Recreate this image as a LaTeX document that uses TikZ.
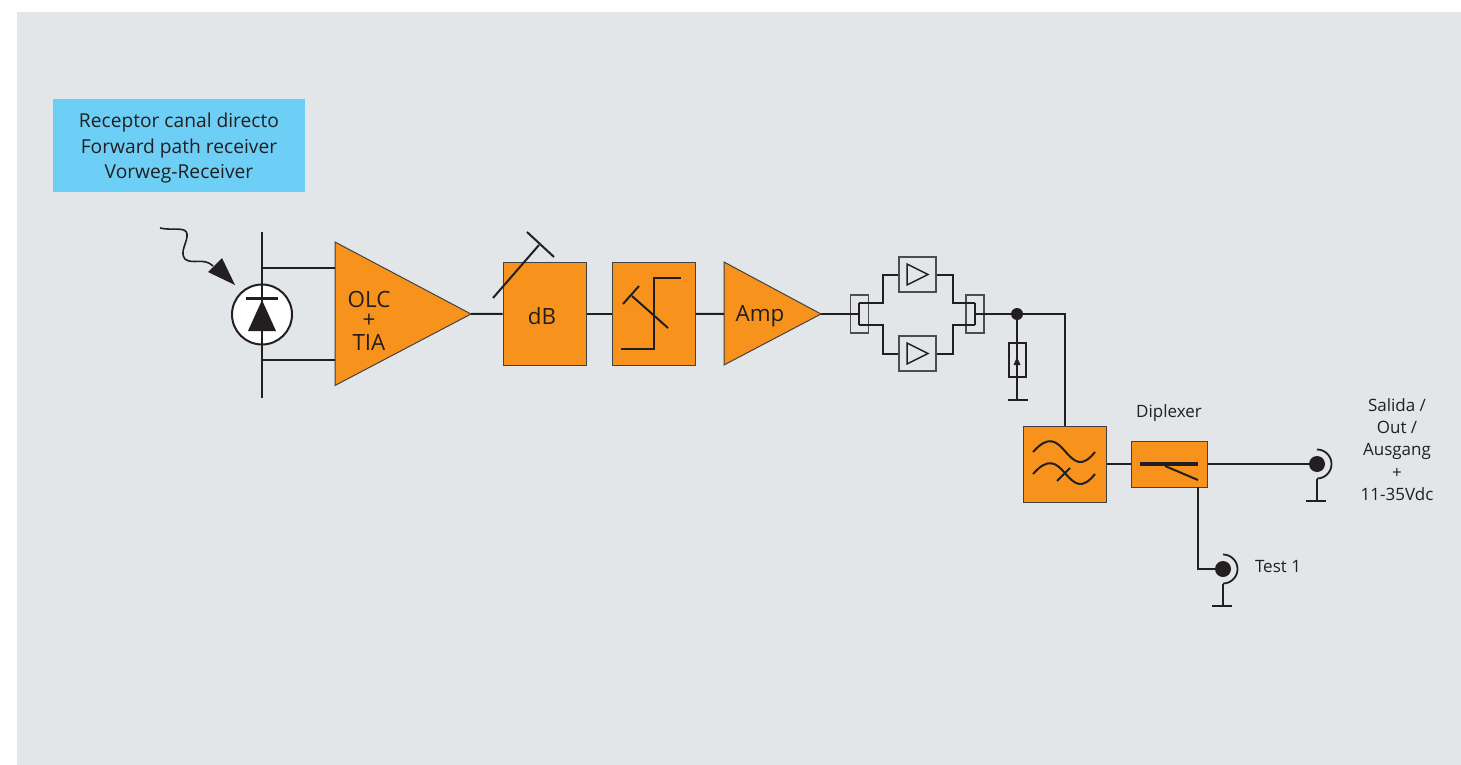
\documentclass[tikz,border=0pt]{standalone}
\usepackage{fontspec}
\setmainfont{Open Sans}
\definecolor{bgc}{HTML}{E2E6E9}
\definecolor{orng}{HTML}{F7931D}
\definecolor{blu}{HTML}{6DCFF6}
\definecolor{ink}{HTML}{231F20}
\tikzset{
  wire/.style={draw=ink,line width=1pt},
  thin wire/.style={draw=ink,line width=.75pt},
  obox/.style={draw=ink!85,fill=orng,line width=.5pt,inner sep=0pt,rectangle},
  otri/.style={draw=ink!85,fill=orng,line width=.5pt,line join=miter},
  gbox/.style={draw=ink!80,line width=.65pt,inner sep=0pt,rectangle},
  lbl/.style={text=ink,font=\fontsize{8.5}{10}\selectfont,inner sep=0pt,align=center},
  big/.style={text=ink,font=\fontsize{9.6}{11}\selectfont,inner sep=0pt,align=center},
  huge/.style={text=ink,font=\fontsize{11.2}{13}\selectfont,inner sep=0pt,align=center},
  dotn/.style={circle,fill=ink,inner sep=0pt},
}
\begin{document}
\begin{tikzpicture}[x=.5pt,y=-.5pt]
\useasboundingbox (0,0) rectangle (1461,765);
\fill[white] (0,0) rectangle (1461,765);
\fill[bgc] (17,12) rectangle (1461,765);
% title
\node[fill=blu,minimum width=126pt,minimum height=46.5pt,inner sep=0pt] (title) at (179,145.25) {};
\node[big] (t1) at (179,122.5) {Receptor canal directo};
\node[big] (t2) at (179,148.5) {Forward path receiver};
\node[big] (t3) at (179,173.5) {Vorweg-Receiver};
% light
\coordinate (ls) at (160,228);
\coordinate (lt) at (235,285);
\draw[wire,line width=.8pt] (ls) .. controls (172,231) and (186,226) .. (187,234)
  .. controls (188,242) and (179,252) .. (185,259)
  .. controls (192,265) and (204,257) .. (213,266);
\fill[ink] (lt) -- (208,272) -- (222,258) -- cycle;
% photodiode
\node[circle,draw=ink,fill=white,line width=1pt,minimum size=30pt,inner sep=0pt] (pd) at (262,314.5) {};
\coordinate (railT) at (262,232);
\coordinate (railB) at (262,398);
\draw[wire] (railT) -- (railB);
\fill[ink] (262,300) -- (276,331) -- (248,331) -- cycle;
\draw[ink,line width=1.6pt] (246,298.5) -- (278,298.5);
% OLC amp
\coordinate (oa) at (335,242);
\coordinate (ob) at (335,385.5);
\coordinate (oc) at (471,314);
\coordinate (oin1) at (335,268);
\coordinate (oin2) at (335,360);
\draw[otri] (oa) -- (oc) -- (ob) -- cycle;
\draw[wire] (262,268) -- (oin1);
\draw[wire] (262,360) -- (oin2);
\node[huge] (olc) at (369,299) {OLC};
\node[huge] (plus) at (369,321) {+};
\node[huge] (tia) at (369,342) {TIA};
% dB
\node[obox,minimum width=41.5pt,minimum height=51.5pt] (db) at (544.5,313.75) {};
\node[huge] (dbl) at (542,316) {dB};
\draw[wire] (oc) -- (db.west);
\draw[wire] (493,298) -- (539,245);
\draw[wire] (527,232) -- (554,257);
% limiter
\node[obox,minimum width=41.5pt,minimum height=51.5pt] (lim) at (653.5,313.75) {};
\draw[wire] (db.east) -- (lim.west);
\draw[wire] (621,349) -- (654,349) -- (654,278) -- (681,278);
\draw[wire] (668,328) -- (632,296);
\draw[wire] (623,304) -- (639,286);
% Amp
\coordinate (aa) at (724,262);
\coordinate (ab) at (724,365);
\coordinate (ac) at (821,314);
\coordinate (ain) at (724,314);
\draw[otri] (aa) -- (ac) -- (ab) -- cycle;
\node[huge] (ampl) at (760,316) {Amp};
\draw[wire] (lim.east) -- (ain);
% splitter
\node[gbox,minimum width=8.75pt,minimum height=19pt] (spl) at (859.5,314) {};
\node[gbox,minimum width=9pt,minimum height=19pt] (cmb) at (975,314) {};
\node[gbox,minimum width=18.5pt,minimum height=17.5pt] (up) at (917.5,274.5) {};
\node[gbox,minimum width=18.5pt,minimum height=17.5pt] (dn) at (917.5,353.5) {};
\draw[thin wire] (907,264) -- (928,274.5) -- (907,285) -- cycle;
\draw[thin wire] (907,343) -- (928,353.5) -- (907,364) -- cycle;
\coordinate (sc) at (859,314);
\coordinate (cc) at (975,314);
\draw[wire] (ac) -- (sc);
\draw[wire] (859,303) -- (sc) -- (859,325);
\draw[wire] (up.west) -- (883,274.5) -- (883,303) -- (859,303);
\draw[wire] (dn.west) -- (883,353.5) -- (883,325) -- (859,325);
\draw[wire] (up.east) -- (953,274.5) -- (953,303) -- (975,303);
\draw[wire] (dn.east) -- (953,353.5) -- (953,325) -- (975,325);
\draw[wire] (975,303) -- (cc) -- (975,325);
% termination
\node[dotn,minimum size=6pt] (nd) at (1017,314) {};
\coordinate (gnd1) at (1017,400);
\draw[wire] (cc) -- (nd);
\draw[wire] (nd) -- (gnd1);
\draw[wire] (1008,400) -- (1028,400);
\node[gbox,draw=ink,line width=.8pt,minimum width=8.5pt,minimum height=17pt] (res) at (1017.5,360) {};
\draw[wire] (nd) -- (gnd1);
\fill[ink] (1017,357) -- (1020.5,365) -- (1013.5,365) -- cycle;
% filter
\node[obox,minimum width=41.5pt,minimum height=38pt] (flt) at (1064.5,464) {};
\draw[wire] (nd) -| (flt.north);
\draw[wire] (1033,452) .. controls (1048,435) and (1056,441) .. (1064,450) .. controls (1075,463) and (1082,468) .. (1095,452);
\draw[wire] (1033,474) .. controls (1048,457) and (1056,463) .. (1064,472) .. controls (1075,485) and (1082,490) .. (1095,474);
\draw[wire] (1057,481) -- (1070,468);
% diplexer
\node[obox,minimum width=38pt,minimum height=23pt] (dpx) at (1169,464) {};
\draw[wire] (flt.east) -- (dpx.west);
\draw[ink,line width=2pt] (1140,464) -- (1198,464);
\draw[wire] (1165,466) -- (1198,480);
\node[lbl] (dl) at (1169,413) {Diplexer};
% output
\node[dotn,minimum size=8pt] (out) at (1317,464) {};
\draw[wire] (dpx.east) -- (out);
\draw[thin wire,line width=.9pt] (1317,449.5) arc (-90:90:14.5);
\coordinate (og) at (1317,501);
\draw[wire] (1317,478.5) -- (og);
\draw[wire] (1306,501) -- (1326,501);
\node[lbl] (s1) at (1397,405.5) {Salida /};
\node[lbl] (s2) at (1397,427.5) {Out /};
\node[lbl] (s3) at (1397,451) {Ausgang};
\node[lbl] (s4) at (1397,473) {+};
\node[lbl] (s5) at (1397,494.5) {11-35Vdc};
% test
\node[dotn,minimum size=8pt] (tst) at (1223,569) {};
\coordinate (dpxb) at (1198,487);
\draw[wire] (dpxb) |- (tst);
\draw[thin wire,line width=.9pt] (1223,554.5) arc (-90:90:14.5);
\coordinate (tg) at (1223,606);
\draw[wire] (1223,583.5) -- (tg);
\draw[wire] (1212,606) -- (1232,606);
\node[lbl] (tl) at (1278,566.5) {Test 1};
\end{tikzpicture}
\end{document}
